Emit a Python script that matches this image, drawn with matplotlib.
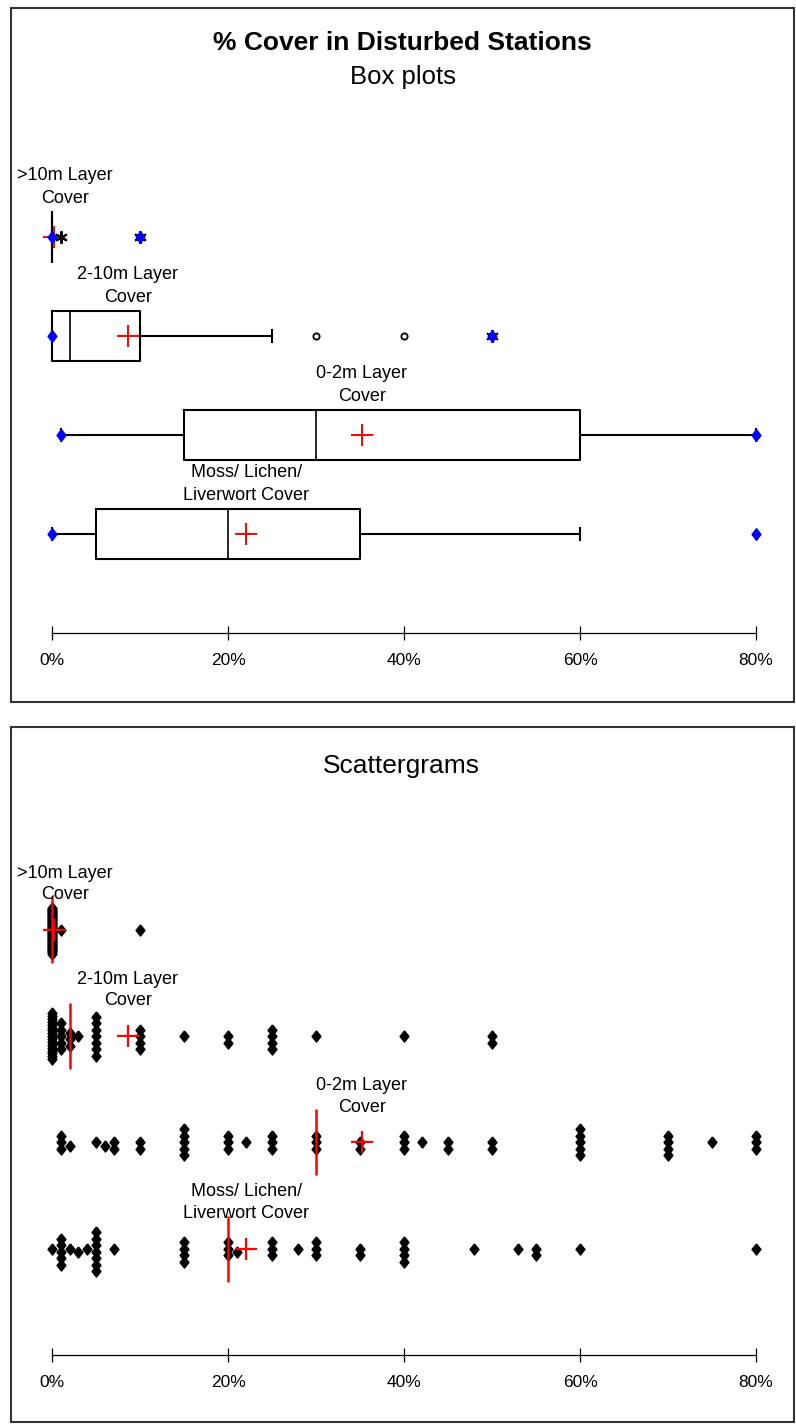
import numpy as np
import matplotlib
matplotlib.use('Agg')
import matplotlib.pyplot as plt
from matplotlib.patches import Rectangle
from matplotlib.ticker import FuncFormatter

plt.rcParams['font.family'] = ['Liberation Sans', 'DejaVu Sans']

# row labels (top to bottom)
labels = ['>10m Layer\nCover', '2-10m Layer\nCover', '0-2m Layer\nCover',
          'Moss/ Lichen/\nLiverwort Cover']

# scattergram data: distinct % cover values and number of stations with each
gt10_vals = [0, 1, 10]
gt10_counts = [46, 1, 1]
mid_vals = [0, 1, 2, 3, 5, 10, 15, 20, 25, 30, 40, 50]
mid_counts = [17, 5, 3, 1, 7, 4, 1, 2, 4, 1, 1, 2]
low_vals = [1, 2, 5, 6, 7, 10, 15, 20, 22, 25, 30, 35, 40, 42, 45, 50, 60, 70, 75, 80]
low_counts = [3, 1, 1, 1, 2, 2, 5, 3, 1, 3, 3, 2, 3, 1, 2, 2, 5, 4, 1, 3]
moss_vals = [0, 1, 2, 3, 4, 5, 7, 15, 20, 21, 25, 28, 30, 35, 40, 48, 53, 55, 60, 80]
moss_counts = [1, 5, 1, 1, 1, 7, 1, 4, 3, 1, 3, 1, 3, 2, 4, 1, 1, 2, 1, 1]

series_vals = [gt10_vals, mid_vals, low_vals, moss_vals]
series_counts = [gt10_counts, mid_counts, low_counts, moss_counts]

# box plot summaries as shown in the chart
box_min = [0, 0, 1, 0]
box_q1 = [0, 0, 15, 5]
box_med = [0, 2, 30, 20]
box_q3 = [0, 10, 60, 35]
whisk_lo = [0, 0, 1, 0]
whisk_hi = [0, 25, 80, 60]
box_max = [10, 50, 80, 80]
mild_out = [[], [30, 40], [], []]
extreme_out = [[1, 10], [50], [], []]

xticks = [0, 20, 40, 60, 80]

W, H = 796, 1427
fig = plt.figure(figsize=(W / 100, H / 100), dpi=100)

# diamond marker shapes
diamond = [(0, 1), (0.8, 0), (0, -1), (-0.8, 0), (0, 1)]
blue_diamond = [(0, 1), (0.75, 0), (0, -1), (-0.75, 0), (0, 1)]

X0_PX, X80_PX = 52, 756
SX = (X80_PX - X0_PX) / 80.0


def make_panel(left, top, right, bottom, row0, row_step):
    ax = fig.add_axes([left / W, 1 - bottom / H, (right - left) / W, (bottom - top) / H])
    ax.set_xlim(-(X0_PX - left) / SX, 80 + (right - X80_PX) / SX)
    ax.set_ylim((bottom - row0) / row_step, (top - row0) / row_step)
    for side in ['left', 'right', 'top']:
        ax.spines[side].set_visible(False)
    ax.spines['bottom'].set_position(('data', 4))
    ax.spines['bottom'].set_bounds(0, 80)
    ax.spines['bottom'].set_linewidth(0.9)
    ax.set_xticks(xticks)
    ax.xaxis.set_major_formatter(FuncFormatter(lambda v, p: f'{v:.0f}%'))
    ax.tick_params(axis='x', direction='inout', length=9.5, width=0.9, pad=10,
                   labelsize=12.5)
    ax.set_yticks([])
    ax.patch.set_visible(False)
    fig.add_artist(Rectangle((left / W, 1 - bottom / H), (right - left) / W,
                             (bottom - top) / H, transform=fig.transFigure,
                             fill=False, ec='#333333', lw=1.5))
    return ax


def swarm(vals, counts, row_step, same_gap=6.5, near_gap=9.0, max_span=46, big=8):
    # simple beeswarm in pixel space, compressed for very tall stacks
    placed = []
    for v, k in zip(vals, counts):
        gap = same_gap if k < 2 else min(same_gap, max_span / (k - 1))
        step = gap / 4
        cands = [0.0]
        for j in range(1, 600):
            cands += [j * step, -j * step]
        xp = v * SX
        for _ in range(k):
            for off in cands:
                ok = True
                for px, py, pv, pbig in placed:
                    if pv == v:
                        if abs(off - py) < gap - 1e-9:
                            ok = False
                            break
                    elif not pbig and k <= big and abs(px - xp) < near_gap:
                        if (px - xp) ** 2 + (py - off) ** 2 < near_gap ** 2:
                            ok = False
                            break
                if ok:
                    break
            placed.append((xp, off, v, k > big))
    xs = np.array([p[2] for p in placed], dtype=float)
    ys = np.array([p[1] for p in placed]) / row_step
    return xs, ys


data = [np.repeat(v, c) for v, c in zip(series_vals, series_counts)]
means = [d.mean() for d in data]
medians = [np.median(d) for d in data]

# ---------------- Box plots ----------------
TOP_STEP = 99.0
ax1 = make_panel(11, 8, 794, 702, 237, TOP_STEP)
fig.text(402 / W, 1 - 43 / H, '% Cover in Disturbed Stations', ha='center', va='center',
         fontsize=19, fontweight='bold')
fig.text(403 / W, 1 - 77 / H, 'Box plots', ha='center', va='center', fontsize=18.5)

stats = []
for i in range(4):
    stats.append(dict(med=box_med[i], q1=box_q1[i], q3=box_q3[i], whislo=whisk_lo[i],
                      whishi=whisk_hi[i], fliers=[], mean=means[i]))
ax1.bxp(stats, positions=range(4), widths=0.5, orientation='horizontal',
        showmeans=True, showfliers=False, capwidths=0.13, manage_ticks=False,
        boxprops=dict(color='black', lw=1.5),
        whiskerprops=dict(color='black', lw=1.5),
        capprops=dict(color='black', lw=1.5),
        medianprops=dict(color='black', lw=1.2),
        meanprops=dict(marker='+', markeredgecolor='red', markersize=16, mew=1.4))
ax1.set_yticks([])

for i in range(4):
    if mild_out[i]:
        ax1.plot(mild_out[i], [i] * len(mild_out[i]), ls='none', marker='o', ms=4.5,
                 mfc='white', mec='black', mew=1.3, zorder=4)
    if extreme_out[i]:
        ax1.plot(extreme_out[i], [i] * len(extreme_out[i]), ls='none', marker=(6, 2, 0),
                 ms=9, color='black', mew=1.4, zorder=4)
    ax1.plot([box_min[i], box_max[i]], [i, i], ls='none', marker=blue_diamond, ms=8.5,
             color='#0000ff', zorder=5)
    ax1.annotate(labels[i], (max(means[i], 1.5), i), xytext=(0, 50),
                 textcoords='offset pixels', ha='center', va='center', fontsize=13,
                 linespacing=1.45)

# ---------------- Scattergrams ----------------
BOT_STEP = 106.2
ax2 = make_panel(11, 727, 794, 1422, 930, BOT_STEP)
fig.text(401 / W, 1 - 766 / H, 'Scattergrams', ha='center', va='center', fontsize=19)

for i in range(4):
    xs, ys = swarm(series_vals[i], series_counts[i], BOT_STEP)
    ax2.plot(xs, i + ys, ls='none', marker=diamond, ms=8, color='black', zorder=2)
    ax2.vlines(medians[i], i - 0.31, i + 0.31, color='red', lw=1.8, zorder=3)
    ax2.plot(means[i], i, marker='+', ms=16, mew=1.6, color='red', zorder=3)
    ax2.annotate(labels[i], (max(means[i], 1.5), i), xytext=(0, 46),
                 textcoords='offset pixels', ha='center', va='center', fontsize=13,
                 linespacing=1.35)

fig.savefig('out.png', dpi=100)
